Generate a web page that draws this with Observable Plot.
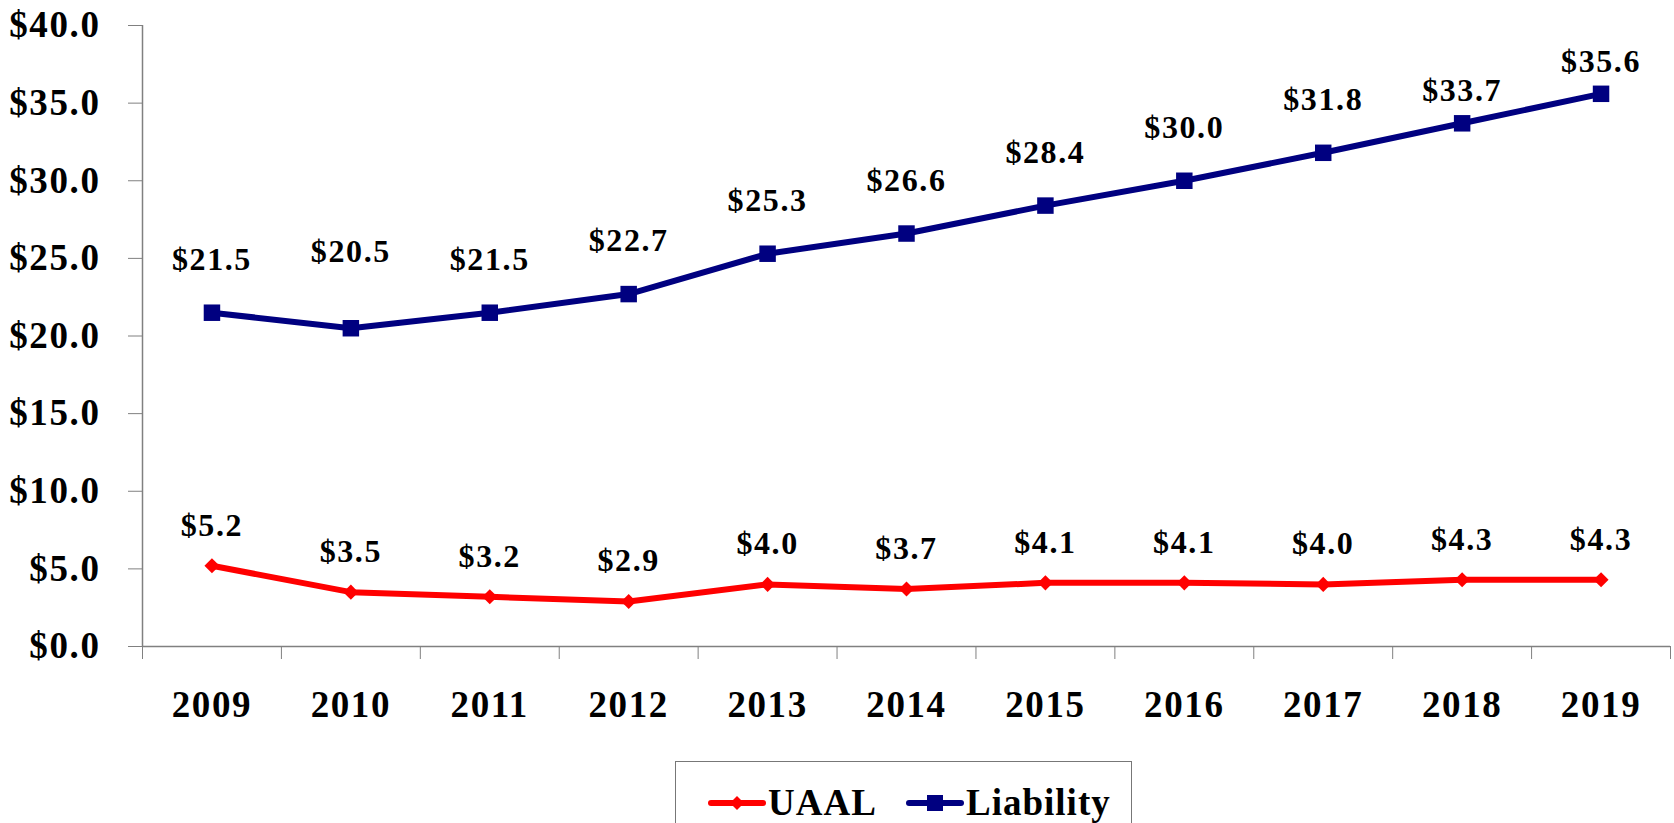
<!DOCTYPE html>
<html>
<head>
<meta charset="utf-8">
<script src="https://cdn.jsdelivr.net/npm/d3@7"></script>
<script src="https://cdn.jsdelivr.net/npm/@observablehq/plot@0.6"></script>
<style>
  html, body { margin: 0; padding: 0; background: #fff; width: 1674px; height: 823px; overflow: hidden; }
  #chart { position: absolute; left: 0; top: 0; }
  #chart svg text { letter-spacing: 1.6px; }
  #legend {
    position: absolute; left: 675px; top: 761px; width: 457px; height: 90px;
    border: 1.5px solid #777; box-sizing: border-box; background: #fff;
    font-family: "Liberation Serif", serif; font-weight: bold; font-size: 37px; color: #000;
    letter-spacing: 1px;
  }
  #legend .item { position: absolute; top: 20px; display: flex; align-items: center; height: 40px; }
  #legend svg { display: block; }
</style>
</head>
<body>
<div id="chart"></div>
<div id="legend"></div>
<script>
// ---- data ----
const years = ["2009","2010","2011","2012","2013","2014","2015","2016","2017","2018","2019"];
const uaal = [5.2, 3.5, 3.2, 2.9, 4.0, 3.7, 4.1, 4.1, 4.0, 4.3, 4.3];
const liability = [21.5, 20.5, 21.5, 22.7, 25.3, 26.6, 28.4, 30.0, 31.8, 33.7, 35.6];
const yTicks = [0, 5, 10, 15, 20, 25, 30, 35, 40];
const seriesNames = ["UAAL", "Liability"];

// ---- styles ----
const RED = "#ff0000", NAVY = "#000080", AXIS = "#808080";
const FONT = "'Liberation Serif', serif";
// label lift above the point (px); Excel labels were nudged for a few points
const liabilityLift = {"2010": 66, "2018": 22, "2019": 22};
const liftOf = y => liabilityLift[y] ?? 43;

const n = years.length;
const uRows = years.map((yr, i) => ({i: i + 0.5, year: yr, v: uaal[i]}));
const lRows = years.map((yr, i) => ({i: i + 0.5, year: yr, v: liability[i]}));
const fmt = v => "$" + v.toFixed(1);

const lifts = [...new Set(years.map(liftOf))];
const liabLabels = lifts.map(l => Plot.text(lRows.filter(d => liftOf(d.year) === l), {
  x: "i", y: "v", text: d => fmt(d.v), dy: -l, lineAnchor: "bottom",
  fontSize: 32, fontWeight: "bold", fontFamily: FONT, fill: "#000"
}));

const chart = Plot.plot({
  width: 1674, height: 740,
  marginLeft: 142, marginRight: 4, marginTop: 25, marginBottom: 94,
  style: {fontFamily: FONT, fontSize: "37px", fontWeight: "bold", color: "#000", background: "#fff"},
  x: {type: "linear", domain: [0, n]},
  y: {domain: [0, 40]},
  marks: [
    Plot.ruleX([0], {stroke: AXIS, strokeWidth: 1.5}),
    Plot.ruleY([0], {stroke: AXIS, strokeWidth: 1.5}),
    Plot.axisY(yTicks, {tickSize: 14, tickPadding: 28, stroke: AXIS, fill: "#000", tickFormat: fmt, label: null}),
    Plot.axisX(d3.range(n + 1), {tickSize: 13, stroke: AXIS, tickFormat: () => "", label: null}),
    Plot.axisX(d3.range(n).map(i => i + 0.5), {tickSize: 0, tickPadding: 44, fill: "#000", tickFormat: i => years[Math.floor(i)], label: null}),
    Plot.line(lRows, {x: "i", y: "v", stroke: NAVY, strokeWidth: 6}),
    Plot.dot(lRows, {x: "i", y: "v", symbol: "square", r: 9.3, fill: NAVY, stroke: "none"}),
    Plot.line(uRows, {x: "i", y: "v", stroke: RED, strokeWidth: 6}),
    Plot.dot(uRows, {x: "i", y: "v", symbol: "diamond2", r: 6.8, fill: RED, stroke: "none"}),
    ...liabLabels,
    Plot.text(uRows, {x: "i", y: "v", text: d => fmt(d.v), dy: -30, lineAnchor: "bottom",
      fontSize: 32, fontWeight: "bold", fontFamily: FONT, fill: "#000"})
  ]
});
document.getElementById("chart").appendChild(chart);

// ---- legend ----
const legend = document.getElementById("legend");
const items = [
  {name: seriesNames[0], color: RED, symbol: "diamond", left: 32},
  {name: seriesNames[1], color: NAVY, symbol: "square", left: 230}
];
for (const it of items) {
  const div = document.createElement("div");
  div.className = "item";
  div.style.left = it.left + "px";
  const ns = "http://www.w3.org/2000/svg";
  const svg = document.createElementNS(ns, "svg");
  svg.setAttribute("width", 58); svg.setAttribute("height", 40);
  const line = document.createElementNS(ns, "line");
  line.setAttribute("x1", 3); line.setAttribute("x2", 55);
  line.setAttribute("y1", 21); line.setAttribute("y2", 21);
  line.setAttribute("stroke", it.color); line.setAttribute("stroke-width", 6);
  line.setAttribute("stroke-linecap", "round");
  svg.appendChild(line);
  const m = document.createElementNS(ns, "path");
  if (it.symbol === "square") m.setAttribute("d", "M21,13h16v16h-16z");
  else m.setAttribute("d", "M29,14l7,7l-7,7l-7,-7z");
  m.setAttribute("fill", it.color);
  svg.appendChild(m);
  div.appendChild(svg);
  const t = document.createElement("span");
  t.textContent = it.name;
  t.style.marginLeft = "2px";
  div.appendChild(t);
  legend.appendChild(div);
}
</script>
</body>
</html>
